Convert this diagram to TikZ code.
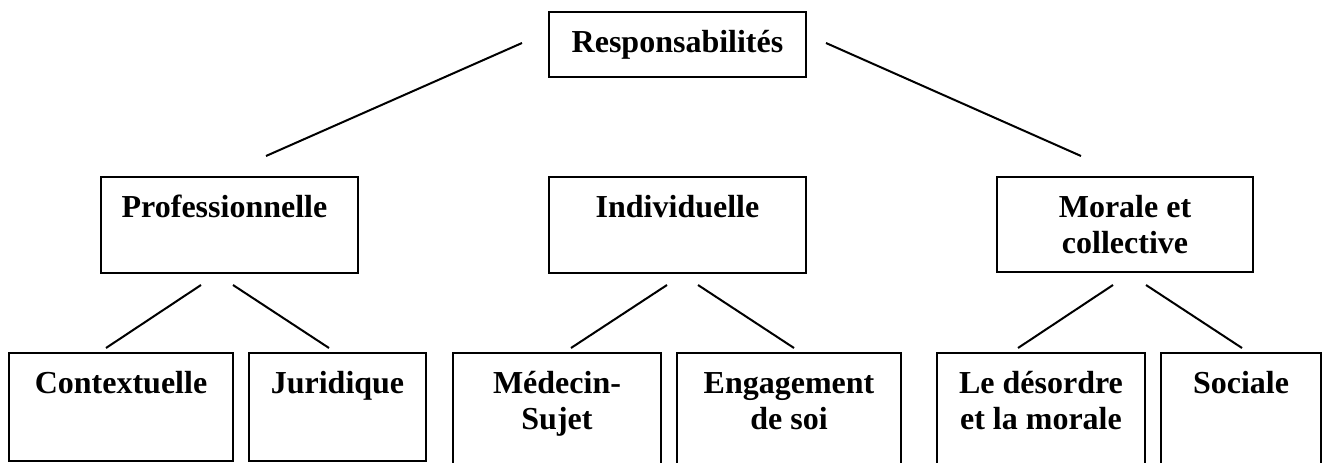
\documentclass[tikz,border=0pt]{standalone}
\usepackage{fontspec}
\setmainfont{Liberation Serif}
\begin{document}
\begin{tikzpicture}[x=1pt,y=-1pt,
  box/.style={draw, line width=2pt, rectangle, inner sep=0pt},
  lbl/.style={anchor=north, inner sep=0pt, align=center, font=\fontsize{32}{36.7}\selectfont\bfseries},
  conn/.style={line width=2pt}]
\useasboundingbox (0,0) rectangle (1326,463);
\clip (0,0) rectangle (1326,463);
% boxes
\node[box, minimum width=257, minimum height=65] (resp) at (677.5,44.5) {};
\node[box, minimum width=257, minimum height=96] (prof) at (229.5,225) {};
\node[box, minimum width=257, minimum height=96] (indiv) at (677.5,225) {};
\node[box, minimum width=256, minimum height=95] (mor) at (1125,224.5) {};
\node[box, minimum width=224, minimum height=108] (ctx) at (121,407) {};
\node[box, minimum width=177, minimum height=108] (jur) at (337.5,407) {};
\node[box, minimum width=208, minimum height=122] (med) at (557,414) {};
\node[box, minimum width=224, minimum height=122] (eng) at (789,414) {};
\node[box, minimum width=208, minimum height=122] (des) at (1041,414) {};
\node[box, minimum width=160, minimum height=122] (soc) at (1241,414) {};
% labels
\node[lbl] (respt) at ([yshift=-15.3pt]resp.north) {\strut Responsabilités};
\node[lbl] (proft) at ([yshift=-15.3pt,xshift=-5pt]prof.north) {\strut Professionnelle};
\node[lbl] (indivt) at ([yshift=-15.3pt]indiv.north) {\strut Individuelle};
\node[lbl] (mort) at ([yshift=-15.3pt]mor.north) {\strut Morale et\\collective};
\node[lbl] (ctxt) at ([yshift=-15.3pt]ctx.north) {\strut Contextuelle};
\node[lbl] (jurt) at ([yshift=-15.3pt]jur.north) {\strut Juridique};
\node[lbl] (medt) at ([yshift=-15.3pt]med.north) {\strut Médecin-\\Sujet};
\node[lbl] (engt) at ([yshift=-15.3pt]eng.north) {\strut Engagement\\de soi};
\node[lbl] (dest) at ([yshift=-15.3pt]des.north) {\strut Le désordre\\et la morale};
\node[lbl] (soct) at ([yshift=-15.3pt]soc.north) {\strut Sociale};
% connector ends
\coordinate (a1) at (522,43);   \coordinate (a2) at (266,156);
\coordinate (b1) at (826,43);   \coordinate (b2) at (1081,156);
\coordinate (p1) at (201,285);  \coordinate (p2) at (106,348);
\coordinate (p3) at (233,285);  \coordinate (p4) at (329,348);
\coordinate (i1) at (667,285);  \coordinate (i2) at (571,348);
\coordinate (i3) at (698,285);  \coordinate (i4) at (794,348);
\coordinate (m1) at (1113,285); \coordinate (m2) at (1018,348);
\coordinate (m3) at (1146,285); \coordinate (m4) at (1242,348);
% connectors
\draw[conn] (a1) -- (a2);
\draw[conn] (b1) -- (b2);
\draw[conn] (p1) -- (p2);
\draw[conn] (p3) -- (p4);
\draw[conn] (i1) -- (i2);
\draw[conn] (i3) -- (i4);
\draw[conn] (m1) -- (m2);
\draw[conn] (m3) -- (m4);
\end{tikzpicture}
\end{document}
